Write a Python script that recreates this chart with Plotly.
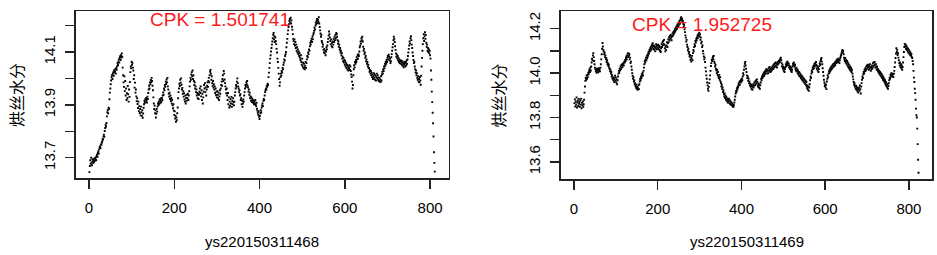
import plotly.graph_objects as go

# ---------------- data ----------------
left_name = "ys220150311468"
right_name = "ys220150311469"
y_title = "烘丝水分"
left_cpk = "CPK = 1.501741"
right_cpk = "CPK = 1.952725"

left_values = [
    13.645, 13.668, 13.690, 13.676, 13.700, 13.682, 13.671, 13.694, 13.686, 13.679,
    13.692, 13.684, 13.698, 13.689, 13.695, 13.701, 13.690, 13.706, 13.712, 13.703,
    13.718, 13.724, 13.715, 13.731, 13.738, 13.742, 13.736, 13.750, 13.748, 13.756,
    13.762, 13.771, 13.768, 13.780, 13.787, 13.779, 13.801, 13.812, 13.824, 13.818,
    13.831, 13.856, 13.872, 13.880, 13.868, 13.889, 13.884, 13.921, 13.946, 13.962,
    13.978, 13.992, 14.005, 14.012, 13.998, 14.018, 14.024, 14.010, 14.031, 14.022,
    14.027, 14.036, 14.018, 14.040, 14.033, 14.046, 14.058, 14.051, 14.064, 14.072,
    14.060, 14.078, 14.084, 14.070, 14.088, 14.079, 14.095, 14.082, 14.041, 14.012,
    13.985, 13.968, 14.008, 13.952, 13.990, 13.935, 13.962, 13.918, 13.944, 13.925,
    13.971, 13.940, 13.912, 13.958, 13.930, 13.986, 14.024, 14.045, 14.038, 14.063,
    14.052, 14.059, 14.041, 14.030, 13.998, 14.012, 13.965, 13.984, 13.946, 13.958,
    13.932, 13.914, 13.925, 13.903, 13.888, 13.912, 13.876, 13.895, 13.869, 13.884,
    13.860, 13.893, 13.872, 13.858, 13.880, 13.851, 13.867, 13.889, 13.902, 13.915,
    13.908, 13.921, 13.912, 13.926, 13.918, 13.909, 13.931, 13.922, 13.945, 13.958,
    13.972, 13.962, 13.985, 13.978, 13.994, 13.986, 14.002, 13.990, 13.972, 13.955,
    13.928, 13.905, 13.884, 13.897, 13.868, 13.879, 13.852, 13.866, 13.885, 13.874,
    13.894, 13.906, 13.899, 13.912, 13.904, 13.921, 13.916, 13.908, 13.924, 13.912,
    13.926, 13.918, 13.935, 13.947, 13.938, 13.962, 13.955, 13.975, 13.968, 13.988,
    13.979, 13.996, 13.985, 14.002, 13.970, 13.958, 13.942, 13.931, 13.946, 13.922,
    13.935, 13.914, 13.926, 13.905, 13.918, 13.898, 13.887, 13.902, 13.878, 13.862,
    13.875, 13.848, 13.858, 13.836, 13.852, 13.842, 13.868, 13.890, 13.925, 13.948,
    13.962, 13.980, 13.971, 13.995, 13.984, 14.000, 13.976, 13.958, 13.964, 13.942,
    13.952, 13.931, 13.944, 13.920, 13.912, 13.935, 13.905, 13.926, 13.915, 13.938,
    13.925, 13.942, 13.918, 13.935, 13.952, 13.970, 13.988, 14.002, 13.995, 14.015,
    14.024, 14.008, 14.030, 13.998, 14.012, 13.990, 13.975, 13.985, 13.962, 13.970,
    13.948, 13.958, 13.935, 13.945, 13.925, 13.940, 13.922, 13.938, 13.950, 13.962,
    13.945, 13.970, 13.932, 13.955, 13.918, 13.942, 13.905, 13.928, 13.950, 13.975,
    13.962, 13.982, 13.948, 13.966, 13.935, 13.958, 13.972, 13.985, 13.968, 13.990,
    14.002, 13.985, 14.012, 14.025, 14.032, 14.018, 13.995, 14.008, 13.982, 13.972,
    13.990, 13.965, 13.978, 13.958, 13.970, 13.945, 13.962, 13.936, 13.950, 13.928,
    13.952, 13.938, 13.925, 13.946, 13.918, 13.932, 13.955, 13.942, 13.962, 13.975,
    13.988, 13.972, 13.998, 14.012, 13.990, 14.028, 14.018, 13.996, 13.982, 13.970,
    13.958, 13.944, 13.962, 13.935, 13.918, 13.945, 13.902, 13.928, 13.890, 13.912,
    13.896, 13.922, 13.905, 13.930, 13.892, 13.915, 13.902, 13.925, 13.910, 13.898,
    13.912, 13.935, 13.948, 13.962, 13.975, 13.968, 13.988, 14.000, 13.982, 13.970,
    13.962, 13.948, 13.955, 13.935, 13.940, 13.918, 13.925, 13.902, 13.915, 13.892,
    13.905, 13.920, 13.912, 13.935, 13.948, 13.962, 13.975, 13.968, 13.985, 13.978,
    13.990, 13.972, 13.965, 13.950, 13.958, 13.938, 13.946, 13.925, 13.932, 13.915,
    13.928, 13.910, 13.922, 13.918, 13.908, 13.915, 13.902, 13.912, 13.905, 13.918,
    13.900, 13.895, 13.908, 13.885, 13.878, 13.870, 13.862, 13.875, 13.855, 13.846,
    13.858, 13.868, 13.880, 13.872, 13.890, 13.898, 13.905, 13.895, 13.915, 13.922,
    13.918, 13.935, 13.948, 13.955, 13.962, 13.958, 13.972, 13.968, 13.980, 13.975,
    14.005, 14.022, 14.040, 14.058, 14.075, 14.088, 14.102, 14.115, 14.128, 14.140,
    14.152, 14.165, 14.172, 14.148, 14.160, 14.138, 14.155, 14.142, 14.130, 14.112,
    14.098, 14.075, 14.062, 14.040, 14.018, 13.998, 13.972, 13.985, 14.005, 14.018,
    14.010, 14.028, 14.022, 14.040, 14.035, 14.052, 14.060, 14.072, 14.068, 14.085,
    14.092, 14.100, 14.118, 14.135, 14.150, 14.168, 14.182, 14.195, 14.205, 14.218,
    14.225, 14.212, 14.230, 14.208, 14.220, 14.196, 14.185, 14.168, 14.150, 14.142,
    14.130, 14.148, 14.125, 14.138, 14.115, 14.128, 14.105, 14.118, 14.098, 14.110,
    14.092, 14.102, 14.085, 14.096, 14.078, 14.070, 14.088, 14.062, 14.052, 14.075,
    14.045, 14.060, 14.038, 14.055, 14.042, 14.035, 14.048, 14.062, 14.040, 14.058,
    14.072, 14.085, 14.080, 14.098, 14.092, 14.110, 14.105, 14.122, 14.135, 14.128,
    14.142, 14.150, 14.138, 14.158, 14.148, 14.165, 14.172, 14.180, 14.192, 14.185,
    14.200, 14.212, 14.205, 14.218, 14.225, 14.210, 14.222, 14.215, 14.232, 14.208,
    14.195, 14.182, 14.170, 14.158, 14.165, 14.142, 14.135, 14.120, 14.128, 14.108,
    14.098, 14.112, 14.095, 14.105, 14.088, 14.102, 14.118, 14.110, 14.125, 14.138,
    14.150, 14.162, 14.178, 14.168, 14.155, 14.142, 14.130, 14.148, 14.122, 14.135,
    14.118, 14.140, 14.128, 14.150, 14.138, 14.158, 14.145, 14.165, 14.152, 14.172,
    14.168, 14.158, 14.145, 14.132, 14.140, 14.120, 14.128, 14.108, 14.115, 14.098,
    14.105, 14.088, 14.096, 14.075, 14.082, 14.065, 14.078, 14.060, 14.070, 14.052,
    14.065, 14.045, 14.058, 14.040, 14.052, 14.035, 14.048, 14.030, 14.042, 14.038,
    14.050, 14.032, 14.045, 14.028, 14.015, 14.005, 13.988, 13.962, 13.975, 14.012,
    14.035, 14.050, 14.042, 14.062, 14.055, 14.070, 14.062, 14.080, 14.072, 14.088,
    14.075, 14.092, 14.085, 14.102, 14.118, 14.125, 14.140, 14.132, 14.152, 14.145,
    14.158, 14.140, 14.120, 14.105, 14.112, 14.092, 14.098, 14.078, 14.085, 14.065,
    14.072, 14.055, 14.062, 14.045, 14.052, 14.038, 14.040, 14.025, 14.032, 14.018,
    14.028, 14.012, 14.022, 14.005, 14.015, 13.998, 14.008, 14.020, 14.002, 14.015,
    13.995, 14.010, 13.992, 14.005, 14.018, 14.000, 14.012, 13.995, 14.004, 13.990,
    14.002, 13.988, 13.996, 13.986, 14.008, 13.992, 14.015, 14.025, 14.018, 14.035,
    14.028, 14.045, 14.038, 14.055, 14.048, 14.062, 14.055, 14.070, 14.062, 14.078,
    14.085, 14.072, 14.090, 14.082, 14.068, 14.075, 14.058, 14.065, 14.080, 14.092,
    14.105, 14.118, 14.130, 14.145, 14.158, 14.150, 14.138, 14.122, 14.108, 14.095,
    14.082, 14.090, 14.075, 14.085, 14.068, 14.078, 14.062, 14.072, 14.058, 14.066,
    14.055, 14.068, 14.060, 14.052, 14.065, 14.048, 14.058, 14.042, 14.052, 14.062,
    14.058, 14.045, 14.062, 14.050, 14.068, 14.055, 14.072, 14.085, 14.098, 14.112,
    14.125, 14.140, 14.132, 14.152, 14.160, 14.145, 14.128, 14.115, 14.098, 14.085,
    14.070, 14.058, 14.062, 14.045, 14.035, 14.022, 14.030, 14.012, 14.020, 14.002,
    13.995, 14.008, 13.988, 13.998, 13.985, 14.005, 13.992, 13.976, 14.010, 14.045,
    14.078, 14.105, 14.130, 14.152, 14.168, 14.142, 14.160, 14.175, 14.150, 14.165,
    14.135, 14.120, 14.128, 14.105, 14.115, 14.100, 14.110, 14.095, 14.105, 14.088,
    14.075, 14.030, 13.995, 13.950, 13.910, 13.870, 13.830, 13.780, 13.720, 13.680,
    13.647,
]

right_values = [
    13.865, 13.882, 13.850, 13.872, 13.858, 13.890, 13.845, 13.868, 13.876, 13.852,
    13.884, 13.862, 13.870, 13.848, 13.878, 13.858, 13.885, 13.842, 13.866, 13.855,
    13.872, 13.848, 13.860, 13.880, 13.912, 13.940, 13.965, 13.978, 13.970, 13.988,
    13.975, 13.992, 13.982, 14.002, 13.995, 14.010, 14.018, 14.005, 14.025, 14.012,
    14.030, 14.048, 14.065, 14.058, 14.080, 14.090, 14.072, 14.055, 14.040, 14.025,
    14.018, 14.008, 14.015, 14.002, 14.020, 14.010, 14.016, 14.004, 14.022, 14.012,
    14.018, 14.008, 14.025, 14.040, 14.062, 14.085, 14.110, 14.136, 14.120, 14.105,
    14.098, 14.085, 14.092, 14.072, 14.080, 14.062, 14.068, 14.050, 14.058, 14.040,
    14.045, 14.032, 14.038, 14.025, 14.020, 14.008, 14.015, 13.998, 14.005, 13.985,
    13.992, 13.975, 13.982, 13.968, 13.978, 13.960, 13.972, 13.988, 13.965, 13.980,
    13.958, 13.972, 13.950, 13.968, 13.985, 13.998, 14.010, 14.002, 14.020, 14.012,
    14.030, 14.018, 14.036, 14.025, 14.040, 14.030, 14.038, 14.045, 14.035, 14.052,
    14.048, 14.060, 14.055, 14.068, 14.075, 14.062, 14.080, 14.088, 14.072, 14.090,
    14.078, 14.085, 14.062, 14.070, 14.045, 14.052, 14.030, 14.015, 14.000, 13.988,
    13.975, 13.982, 13.962, 13.968, 13.950, 13.955, 13.942, 13.935, 13.948, 13.930,
    13.938, 13.925, 13.932, 13.945, 13.928, 13.950, 13.962, 13.975, 13.968, 13.985,
    13.978, 13.995, 13.988, 14.002, 13.990, 14.010, 14.025, 14.040, 14.055, 14.048,
    14.062, 14.070, 14.058, 14.078, 14.068, 14.085, 14.078, 14.095, 14.088, 14.105,
    14.098, 14.112, 14.102, 14.120, 14.108, 14.128, 14.115, 14.135, 14.122, 14.110,
    14.125, 14.105, 14.118, 14.098, 14.112, 14.130, 14.120, 14.108, 14.125, 14.115,
    14.128, 14.110, 14.122, 14.105, 14.118, 14.100, 14.095, 14.112, 14.130, 14.118,
    14.138, 14.125, 14.145, 14.132, 14.150, 14.128, 14.112, 14.098, 14.120, 14.105,
    14.125, 14.140, 14.118, 14.135, 14.152, 14.140, 14.162, 14.148, 14.168, 14.155,
    14.172, 14.160, 14.148, 14.165, 14.178, 14.168, 14.185, 14.175, 14.190, 14.182,
    14.198, 14.188, 14.205, 14.195, 14.212, 14.200, 14.218, 14.208, 14.222, 14.215,
    14.228, 14.235, 14.222, 14.240, 14.248, 14.252, 14.238, 14.245, 14.230, 14.236,
    14.222, 14.210, 14.218, 14.198, 14.185, 14.170, 14.160, 14.142, 14.150, 14.128,
    14.118, 14.102, 14.110, 14.088, 14.095, 14.075, 14.082, 14.060, 14.070, 14.052,
    14.065, 14.078, 14.058, 14.090, 14.105, 14.098, 14.118, 14.130, 14.122, 14.145,
    14.138, 14.155, 14.148, 14.162, 14.170, 14.158, 14.175, 14.168, 14.182, 14.165,
    14.175, 14.150, 14.160, 14.135, 14.142, 14.118, 14.125, 14.100, 14.088, 14.075,
    14.062, 14.070, 14.050, 14.025, 14.008, 13.990, 13.975, 13.958, 13.945, 13.930,
    13.920, 13.938, 13.955, 13.972, 13.990, 14.010, 14.032, 14.045, 14.060, 14.055,
    14.068, 14.075, 14.062, 14.078, 14.052, 14.045, 14.030, 14.038, 14.020, 14.012,
    14.000, 14.015, 13.992, 14.005, 13.985, 13.978, 13.992, 13.970, 13.982, 13.962,
    13.955, 13.940, 13.948, 13.928, 13.935, 13.915, 13.922, 13.905, 13.895, 13.908,
    13.888, 13.898, 13.880, 13.892, 13.875, 13.885, 13.868, 13.880, 13.872, 13.885,
    13.865, 13.878, 13.860, 13.872, 13.858, 13.868, 13.855, 13.862, 13.850, 13.858,
    13.848, 13.856, 13.868, 13.880, 13.895, 13.908, 13.920, 13.915, 13.932, 13.925,
    13.940, 13.935, 13.952, 13.945, 13.960, 13.948, 13.965, 13.958, 13.970, 13.962,
    13.975, 13.968, 13.985, 14.000, 13.992, 14.015, 14.030, 14.042, 14.050, 14.035,
    14.020, 14.005, 13.990, 13.978, 13.985, 13.965, 13.975, 13.955, 13.962, 13.945,
    13.952, 13.938, 13.948, 13.930, 13.942, 13.925, 13.938, 13.950, 13.935, 13.945,
    13.958, 13.945, 13.962, 13.950, 13.968, 13.955, 13.972, 13.960, 13.945, 13.938,
    13.952, 13.935, 13.948, 13.930, 13.945, 13.958, 13.975, 13.968, 13.985, 13.978,
    13.992, 13.985, 14.000, 13.988, 14.005, 13.995, 14.010, 14.000, 14.018, 14.008,
    14.015, 13.998, 14.012, 14.000, 14.022, 14.010, 14.028, 14.015, 14.005, 14.020,
    14.008, 14.025, 14.015, 14.030, 14.018, 14.035, 14.022, 14.040, 14.028, 14.045,
    14.035, 14.048, 14.030, 14.042, 14.025, 14.038, 14.050, 14.042, 14.055, 14.048,
    14.060, 14.052, 14.065, 14.070, 14.058, 14.045, 14.030, 14.038, 14.020, 14.028,
    14.010, 14.022, 14.005, 14.018, 14.028, 14.040, 14.032, 14.048, 14.038, 14.052,
    14.045, 14.035, 14.042, 14.025, 14.032, 14.018, 14.028, 14.010, 14.022, 14.005,
    14.015, 14.030, 14.042, 14.035, 14.048, 14.040, 14.030, 14.038, 14.020, 14.012,
    14.025, 14.008, 14.018, 14.000, 14.012, 13.995, 14.005, 13.988, 14.002, 13.985,
    13.995, 13.978, 13.990, 13.972, 13.985, 13.968, 13.980, 13.962, 13.975, 13.958,
    13.970, 13.952, 13.965, 13.948, 13.960, 13.940, 13.932, 13.945, 13.925, 13.938,
    13.920, 13.935, 13.950, 13.968, 13.985, 13.978, 13.998, 14.012, 14.005, 14.025,
    14.018, 14.032, 14.022, 14.040, 14.030, 14.045, 14.035, 14.050, 14.038, 14.020,
    14.030, 14.012, 14.025, 14.005, 14.018, 14.032, 14.045, 14.038, 14.055, 14.062,
    14.068, 14.052, 14.040, 14.022, 14.005, 13.988, 13.970, 13.958, 13.942, 13.950,
    13.935, 13.948, 13.928, 13.962, 13.975, 13.990, 13.982, 13.998, 14.010, 14.002,
    14.018, 14.008, 14.025, 14.015, 14.030, 14.020, 14.035, 14.025, 14.040, 14.030,
    14.042, 14.032, 14.048, 14.038, 14.052, 14.045, 14.058, 14.048, 14.062, 14.055,
    14.065, 14.050, 14.060, 14.045, 14.058, 14.068, 14.075, 14.082, 14.090, 14.098,
    14.105, 14.092, 14.100, 14.085, 14.070, 14.062, 14.055, 14.068, 14.048, 14.060,
    14.042, 14.055, 14.035, 14.048, 14.028, 14.040, 14.022, 14.035, 14.015, 14.028,
    14.010, 14.022, 14.005, 14.015, 13.998, 13.985, 13.972, 13.960, 13.948, 13.955,
    13.938, 13.945, 13.930, 13.942, 13.925, 13.935, 13.918, 13.930, 13.912, 13.925,
    13.935, 13.920, 13.945, 13.928, 13.908, 13.940, 13.955, 13.970, 13.985, 13.978,
    13.995, 14.005, 13.998, 14.015, 14.008, 14.022, 14.012, 14.030, 14.018, 14.035,
    14.025, 14.038, 14.028, 14.015, 14.032, 14.020, 14.040, 14.025, 14.010, 14.028,
    14.018, 14.035, 14.022, 14.045, 14.030, 14.048, 14.035, 14.050, 14.038, 14.025,
    14.040, 14.028, 14.015, 14.030, 14.020, 14.008, 14.015, 14.002, 14.010, 13.995,
    14.005, 13.990, 14.000, 13.985, 13.995, 13.978, 13.988, 13.970, 13.982, 13.965,
    13.975, 13.958, 13.968, 13.950, 13.960, 13.942, 13.952, 13.935, 13.948, 13.930,
    13.942, 13.955, 13.968, 13.980, 13.975, 13.992, 13.985, 14.000, 13.990, 13.998,
    13.985, 13.995, 13.982, 13.998, 14.010, 14.028, 14.048, 14.068, 14.088, 14.112,
    14.095, 14.105, 14.082, 14.090, 14.070, 14.058, 14.045, 14.035, 14.048, 14.028,
    14.040, 14.022, 14.035, 14.015, 14.028, 14.048, 14.072, 14.095, 14.118, 14.132,
    14.120, 14.128, 14.110, 14.122, 14.105, 14.115, 14.098, 14.110, 14.092, 14.105,
    14.088, 14.098, 14.082, 14.092, 14.078, 14.085, 14.072, 14.068, 14.055, 14.040,
    14.010, 13.980, 13.960, 13.930, 13.910, 13.880, 13.840, 13.810, 13.800, 13.750,
    13.680, 13.610, 13.551,
]

x_ticks = [0, 200, 400, 600, 800]
left_yticks = [13.7, 13.8, 13.9, 14.0, 14.1, 14.2]
left_ylabels = ["13.7", "", "13.9", "", "14.1", ""]
right_yticks = [13.6, 13.7, 13.8, 13.9, 14.0, 14.1, 14.2]
right_ylabels = ["13.6", "", "13.8", "", "14.0", "", "14.2"]

# ---------------- figure ----------------
W, H = 937, 255
FONT = "Liberation Sans, Arial, sans-serif"
CJK = "Noto Sans CJK SC, sans-serif"


def xr(n):
    pad = 0.04 * (n - 1)
    return [1 - pad, n + pad]


def yr(vals):
    lo, hi = min(vals), max(vals)
    pad = 0.04 * (hi - lo)
    return [lo - pad, hi + pad]


marker = dict(symbol="square", size=1.9, color="black", line=dict(width=0))

fig = go.Figure()
fig.add_trace(go.Scatter(
    x=list(range(1, len(left_values) + 1)), y=left_values, mode="markers",
    marker=marker, xaxis="x", yaxis="y", showlegend=False, hoverinfo="skip"))
fig.add_trace(go.Scatter(
    x=list(range(1, len(right_values) + 1)), y=right_values, mode="markers",
    marker=marker, xaxis="x2", yaxis="y2", showlegend=False, hoverinfo="skip"))

box_l = [75.6 / W, 448.6 / W]
box_r = [560.7 / W, 932.3 / W]
ydom_l = [1 - 178.3 / H, 1 - 11 / H]
ydom_r = [1 - 179 / H, 1 - 11 / H]

common_x = dict(showgrid=False, zeroline=False, showline=True, mirror=True,
                linecolor="#222", linewidth=1.5, ticks="outside", ticklen=9,
                tickwidth=1.4, tickcolor="#222", tickvals=x_ticks,
                ticktext=[str(v) for v in x_ticks],
                tickfont=dict(family=FONT, size=15, color="black"),
                ticklabelstandoff=6)
common_y = dict(showgrid=False, zeroline=False, showline=True, mirror=True,
                linecolor="#222", linewidth=1.5, ticks="outside", ticklen=9,
                tickwidth=1.4, tickcolor="#222", tickangle=-90,
                tickfont=dict(family=FONT, size=15, color="black"),
                ticklabelstandoff=4)

fig.update_layout(
    width=W, height=H, margin=dict(l=0, r=0, t=0, b=0),
    paper_bgcolor="white", plot_bgcolor="white", showlegend=False,
    xaxis=dict(domain=box_l, range=xr(len(left_values)), anchor="y", **common_x),
    yaxis=dict(domain=ydom_l, range=yr(left_values), anchor="x",
               tickvals=left_yticks, ticktext=left_ylabels, **common_y),
    xaxis2=dict(domain=box_r, range=xr(len(right_values)), anchor="y2", **common_x),
    yaxis2=dict(domain=ydom_r, range=yr(right_values), anchor="x2",
                tickvals=right_yticks, ticktext=right_ylabels, **common_y),
)

ann = []
# CPK labels (red)
ann.append(dict(text=left_cpk, x=308, y=14.223, xref="x", yref="y",
                showarrow=False, xanchor="center", yanchor="middle",
                font=dict(family=FONT, size=19, color="#ff1a1a")))
ann.append(dict(text=right_cpk, x=306, y=14.218, xref="x2", yref="y2",
                showarrow=False, xanchor="center", yanchor="middle",
                font=dict(family=FONT, size=19, color="#ff1a1a")))
# x titles
for name, dom in ((left_name, box_l), (right_name, box_r)):
    ann.append(dict(text=name, x=(dom[0] + dom[1]) / 2, y=1 - 241.5 / H,
                    xref="paper", yref="paper", showarrow=False,
                    xanchor="center", yanchor="middle",
                    font=dict(family=FONT, size=15, color="black")))
# y titles
for xp in (16.0, 497.5):
    ann.append(dict(text=y_title, x=xp / W, y=1 - 95 / H, xref="paper",
                    yref="paper", showarrow=False, textangle=-90,
                    xanchor="center", yanchor="middle",
                    font=dict(family=CJK, size=16, color="black")))
fig.update_layout(annotations=ann)

fig.write_html(
    "out.html",
    config={"displayModeBar": False, "staticPlot": True},
    post_script="document.body.style.margin='0';document.body.style.padding='0';",
)
